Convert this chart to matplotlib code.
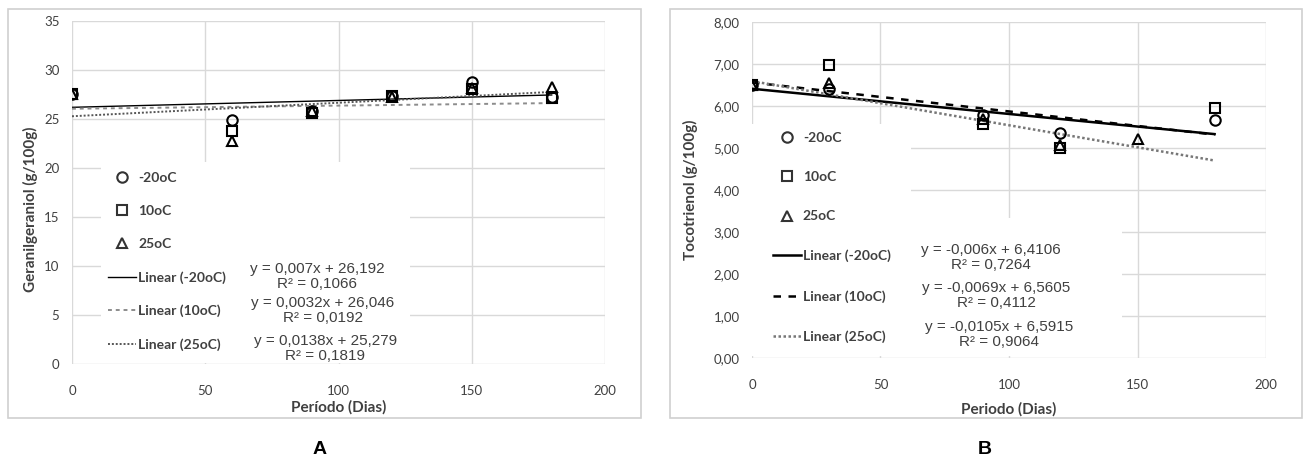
import matplotlib
matplotlib.use("Agg")
import matplotlib.pyplot as plt
from matplotlib.patches import Rectangle
from matplotlib.lines import Line2D
from matplotlib.ticker import FuncFormatter

# panel A - geranilgeraniol
dias_a = [0, 60, 90, 120, 150, 180]
geran_m20 = [27.6, 24.9, 25.8, 27.3, 28.8, 27.2]
geran_10 = [27.6, 23.8, 25.6, 27.3, 28.1, 27.1]
geran_25 = [27.6, 22.8, 25.8, 27.2, 28.2, 28.3]
slope_a = [0.007, 0.0032, 0.0138]
inter_a = [26.192, 26.046, 25.279]
eq_a = ["y = 0,007x + 26,192\nR² = 0,1066",
        "y = 0,0032x + 26,046\nR² = 0,0192",
        "y = 0,0138x + 25,279\nR² = 0,1819"]

# panel B - tocotrienol
dias_b_m20 = [0, 30, 90, 120, 180]
toco_m20 = [6.5, 6.4, 5.78, 5.36, 5.67]
dias_b_10 = [0, 30, 90, 120, 180]
toco_10 = [6.5, 6.97, 5.56, 5.0, 5.95]
dias_b_25 = [0, 30, 90, 120, 150]
toco_25 = [6.5, 6.55, 5.7, 5.07, 5.21]
slope_b = [-0.006, -0.0069, -0.0105]
inter_b = [6.4106, 6.5605, 6.5915]
eq_b = ["y = -0,006x + 6,4106\nR² = 0,7264",
        "y = -0,0069x + 6,5605\nR² = 0,4112",
        "y = -0,0105x + 6,5915\nR² = 0,9064"]

series_names = ["-20oC", "10oC", "25oC"]
markers = ["o", "s", "^"]
x_range = [0, 180]

W, H = 1312, 466
fig = plt.figure(figsize=(W / 100, H / 100), dpi=100)
fig.patch.set_facecolor("white")

# chart area borders
for x0, x1 in [(8, 641), (670, 1302)]:
    fig.patches.append(Rectangle((x0 / W, (H - 418) / H), (x1 - x0) / W, 409 / H,
                                 transform=fig.transFigure, fill=False,
                                 edgecolor="#d0d0d0", lw=1.2))

TXT = "#404040"


def style_axes(ax):
    for s in ax.spines.values():
        s.set_visible(False)
    ax.grid(True, color="#d9d9d9", lw=1)
    ax.set_axisbelow(True)
    ax.tick_params(length=0, labelsize=9.5, colors=TXT)
    ax.set_xlim(0, 200)
    ax.set_xticks([0, 50, 100, 150, 200])


def draw_panel(ax, xs, ys, slopes, inters, styles, eqs, eq_pos, boxes, leg_anchor, leg_spacing):
    for (x0, y0, w, h) in boxes:
        ax.add_patch(Rectangle((x0, y0), w, h, transform=ax.transAxes,
                               facecolor="white", edgecolor="none", zorder=1))
    handles = []
    for x, y, m, name in zip(xs, ys, markers, series_names):
        ax.plot(x, y, linestyle="none", marker=m, ms=7.5, mfc="none", mec="black",
                mew=1.5, zorder=4)
        handles.append(Line2D([], [], linestyle="none", marker=m, ms=7.5, mfc="none",
                              mec="#333333", mew=1.5, label=name))
    for s, b, st, name in zip(slopes, inters, styles, series_names):
        yy = [s * xv + b for xv in x_range]
        ax.plot(x_range, yy, zorder=3, **st)
        handles.append(Line2D([], [], label="Linear (%s)" % name, **st))
    leg = ax.legend(handles=handles, loc="upper left", bbox_to_anchor=leg_anchor,
                    frameon=False, prop=dict(family="Lato", size=10, weight="bold"),
                    labelspacing=leg_spacing, handlelength=2.0, handletextpad=0.15,
                    borderaxespad=0)
    for t in leg.get_texts():
        t.set_color(TXT)
    leg.set_zorder(5)
    for txt, (px, py) in zip(eqs, eq_pos):
        ax.text(px, py, txt, ha="center", va="center", fontsize=11,
                family="Liberation Sans", color=TXT, linespacing=1.1, zorder=6)
    for lab in ax.get_xticklabels() + ax.get_yticklabels():
        lab.set_fontfamily("Lato")
    ax.tick_params(axis="x", pad=15)
    ax.tick_params(axis="y", pad=9)


# ---- A
axA = fig.add_axes([72 / W, (H - 364) / H, 533 / W, 343 / H])
style_axes(axA)
axA.set_ylim(0, 35)
axA.set_yticks(range(0, 36, 5))
styles_a = [dict(color="black", lw=1.0, linestyle="-"),
            dict(color="#8c8c8c", lw=1.4, linestyle=(0, (2, 2))),
            dict(color="#555555", lw=1.4, linestyle=(0, (1, 1)))]
draw_panel(axA, [dias_a] * 3, [geran_m20, geran_10, geran_25], slope_a, inter_a,
           styles_a, eq_a, [(92, 8.9), (94, 5.5), (95, 1.6)],
           [(0.054, 0.004, 0.58, 0.585)], (0.058, 0.575), 1.5)
axA.set_xlabel("Período (Dias)", fontfamily="Lato", fontsize=11, fontweight="bold",
               color=TXT)
axA.set_ylabel("Geranilgeraniol (g/100g)", fontfamily="Lato", fontsize=11,
               fontweight="bold", color=TXT)
axA.xaxis.set_label_coords(0.5, -0.105)
axA.yaxis.set_label_coords(-0.064, 0.45)

# ---- B
axB = fig.add_axes([752 / W, (H - 358) / H, 514 / W, 336 / H])
style_axes(axB)
axB.set_ylim(0, 8)
axB.set_yticks(range(0, 9))
axB.yaxis.set_major_formatter(FuncFormatter(lambda v, p: ("%.2f" % v).replace(".", ",")))
styles_b = [dict(color="black", lw=1.8, linestyle="-"),
            dict(color="black", lw=1.8, linestyle=(0, (3, 3))),
            dict(color="#777777", lw=1.8, linestyle=(0, (1, 1)))]
draw_panel(axB, [dias_b_m20, dias_b_10, dias_b_25], [toco_m20, toco_10, toco_25],
           slope_b, inter_b, styles_b, eq_b, [(93, 2.4), (95, 1.48), (96, 0.57)],
           [(0.0, 0.006, 0.31, 0.69), (0.30, 0.006, 0.42, 0.41)], (0.03, 0.69), 1.97)
axB.set_xlabel("Periodo (Dias)", fontfamily="Lato", fontsize=11, fontweight="bold",
               color=TXT)
axB.set_ylabel("Tocotrienol (g/100g)", fontfamily="Lato", fontsize=11,
               fontweight="bold", color=TXT)
axB.xaxis.set_label_coords(0.5, -0.131)
axB.yaxis.set_label_coords(-0.105, 0.5)

fig.text(320 / W, 1 - 450 / H, "A", ha="center", va="center", fontsize=14,
         fontweight="bold", family="Liberation Sans")
fig.text(985 / W, 1 - 450 / H, "B", ha="center", va="center", fontsize=14,
         fontweight="bold", family="Liberation Sans")

fig.savefig("out.png", dpi=100)
